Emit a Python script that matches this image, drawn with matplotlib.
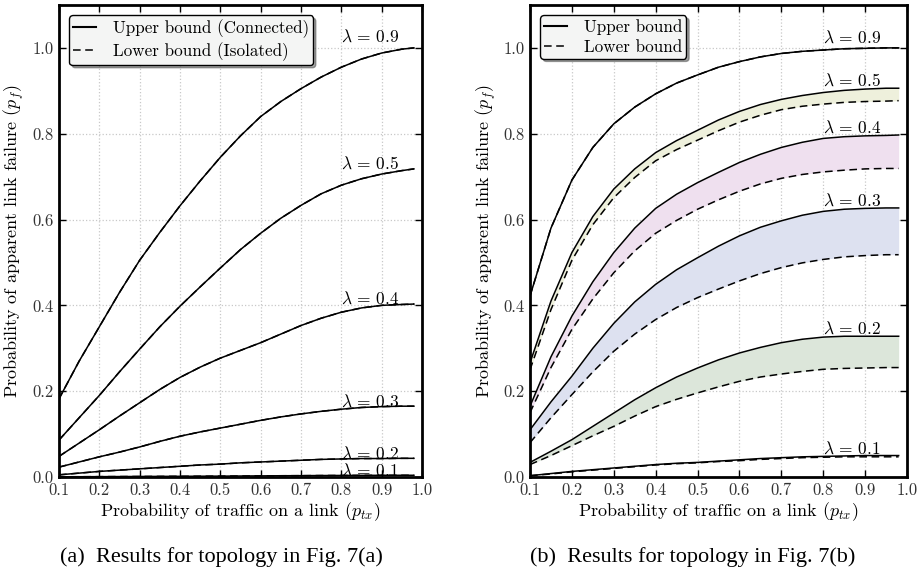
import matplotlib
matplotlib.use("Agg")
import matplotlib.pyplot as plt

plt.rcParams['font.family'] = 'serif'
plt.rcParams['font.serif'] = ['cmr10', 'DejaVu Serif']
plt.rcParams['mathtext.fontset'] = 'cm'
plt.rcParams['axes.formatter.use_mathtext'] = True
plt.rcParams['axes.unicode_minus'] = False

# traffic probability (x axis), shared by both panels
ptx = [0.1, 0.15, 0.2, 0.25, 0.3, 0.35, 0.4, 0.45, 0.5, 0.55, 0.6, 0.65, 0.7, 0.75,
       0.8, 0.85, 0.9, 0.95, 0.98]
lambdas = ["0.9", "0.5", "0.4", "0.3", "0.2", "0.1"]

# (a) topology 7(a): upper and lower bounds coincide
a_upper = {
    "0.9": [0.182, 0.27, 0.35, 0.43, 0.505, 0.57, 0.632, 0.69, 0.745, 0.795, 0.84, 0.875,
            0.905, 0.932, 0.955, 0.974, 0.988, 0.997, 1.0],
    "0.5": [0.086, 0.138, 0.19, 0.245, 0.298, 0.35, 0.398, 0.443, 0.487, 0.53, 0.568, 0.603,
            0.633, 0.66, 0.68, 0.695, 0.706, 0.714, 0.718],
    "0.4": [0.048, 0.079, 0.11, 0.142, 0.173, 0.204, 0.232, 0.256, 0.277, 0.295, 0.313, 0.333,
            0.353, 0.37, 0.384, 0.394, 0.400, 0.402, 0.403],
    "0.3": [0.023, 0.035, 0.047, 0.058, 0.070, 0.083, 0.095, 0.105, 0.114, 0.123, 0.132, 0.140,
            0.147, 0.153, 0.158, 0.162, 0.164, 0.165, 0.165],
    "0.2": [0.005, 0.009, 0.013, 0.016, 0.019, 0.022, 0.025, 0.028, 0.030, 0.033, 0.035, 0.037,
            0.039, 0.041, 0.042, 0.043, 0.043, 0.0435, 0.0435],
    "0.1": [0.0005, 0.0006, 0.0008, 0.001, 0.0012, 0.0014, 0.0016, 0.0018, 0.002, 0.0023,
            0.0026, 0.0029, 0.0031, 0.0034, 0.0036, 0.0038, 0.0039, 0.004, 0.004],
}
a_lower = a_upper

# (b) topology 7(b)
b_upper = {
    "0.9": [0.422, 0.580, 0.692, 0.768, 0.823, 0.862, 0.893, 0.918, 0.937, 0.955, 0.968, 0.979,
            0.987, 0.992, 0.995, 0.998, 0.999, 1.0, 1.0],
    "0.5": [0.266, 0.41, 0.523, 0.607, 0.671, 0.718, 0.756, 0.784, 0.808, 0.832, 0.852, 0.868,
            0.880, 0.889, 0.896, 0.901, 0.904, 0.906, 0.906],
    "0.4": [0.165, 0.28, 0.375, 0.455, 0.523, 0.58, 0.626, 0.659, 0.686, 0.71, 0.733, 0.752,
            0.768, 0.78, 0.789, 0.793, 0.795, 0.796, 0.797],
    "0.3": [0.11, 0.175, 0.235, 0.30, 0.358, 0.408, 0.449, 0.483, 0.511, 0.538, 0.562, 0.582,
            0.597, 0.610, 0.619, 0.624, 0.626, 0.627, 0.627],
    "0.2": [0.034, 0.06, 0.087, 0.118, 0.149, 0.18, 0.208, 0.233, 0.254, 0.273, 0.289, 0.302,
            0.313, 0.321, 0.326, 0.328, 0.328, 0.328, 0.328],
    "0.1": [0.003, 0.008, 0.013, 0.017, 0.021, 0.025, 0.029, 0.032, 0.034, 0.037, 0.040, 0.043,
            0.045, 0.047, 0.048, 0.049, 0.050, 0.050, 0.050],
}
b_lower = {
    "0.9": [0.422, 0.580, 0.692, 0.768, 0.823, 0.862, 0.893, 0.918, 0.937, 0.955, 0.968, 0.979,
            0.987, 0.992, 0.995, 0.998, 0.999, 1.0, 1.0],
    "0.5": [0.25, 0.39, 0.505, 0.588, 0.651, 0.698, 0.737, 0.763, 0.785, 0.807, 0.827, 0.843,
            0.856, 0.864, 0.869, 0.873, 0.875, 0.876, 0.877],
    "0.4": [0.150, 0.255, 0.344, 0.415, 0.476, 0.527, 0.568, 0.598, 0.624, 0.646, 0.666, 0.683,
            0.696, 0.705, 0.711, 0.715, 0.718, 0.719, 0.719],
    "0.3": [0.08, 0.138, 0.192, 0.245, 0.293, 0.333, 0.367, 0.395, 0.418, 0.438, 0.457, 0.474,
            0.488, 0.499, 0.507, 0.513, 0.516, 0.518, 0.518],
    "0.2": [0.029, 0.05, 0.073, 0.096, 0.118, 0.142, 0.164, 0.181, 0.196, 0.210, 0.223, 0.233,
            0.240, 0.246, 0.251, 0.253, 0.254, 0.255, 0.255],
    "0.1": [0.003, 0.007, 0.012, 0.016, 0.020, 0.024, 0.028, 0.031, 0.033, 0.036, 0.038, 0.041,
            0.043, 0.045, 0.046, 0.047, 0.047, 0.047, 0.047],
}
band_colors = {"0.5": "#eef0dc", "0.4": "#efe0ef", "0.3": "#dde1f0", "0.2": "#dce6da"}

xticks = [0.1, 0.2, 0.3, 0.4, 0.5, 0.6, 0.7, 0.8, 0.9, 1.0]
yticks = [0.0, 0.2, 0.4, 0.6, 0.8, 1.0]


def draw_panel(ax, upper, lower, legend_labels, label_off, fill):
    for lam in lambdas:
        if fill and lam in band_colors:
            ax.fill_between(ptx, lower[lam], upper[lam], color=band_colors[lam], lw=0, zorder=1)
        ax.plot(ptx, upper[lam], color="black", lw=1.1, ls="-", zorder=3)
        ax.plot(ptx, lower[lam], color="black", lw=1.1, ls=(0, (5, 3)), zorder=3)
        ax.text(0.8, upper[lam][-1] + label_off.get(lam, label_off["default"]),
                r"$\lambda\,=\,%s$" % lam, fontsize=12.5, ha="left", va="center", zorder=4)
    ax.set_xlim(0.1, 1.0)
    ax.set_ylim(0.0, 1.1)
    ax.set_xticks(xticks)
    ax.set_yticks(yticks)
    ax.set_xticklabels(["%.1f" % t for t in xticks])
    ax.set_yticklabels(["%.1f" % t for t in yticks])
    ax.tick_params(direction="in", top=True, right=True, length=5, width=1,
                   labelsize=12, labelcolor="#333333", pad=4)
    ax.grid(True, ls=":", color="#c8c8c8", lw=0.9, zorder=0)
    ax.set_axisbelow(True)
    for s in ax.spines.values():
        s.set_linewidth(2.0)
    ax.set_xlabel(r"Probability of traffic on a link ($p_{tx}$)", fontsize=13, labelpad=2)
    ax.set_ylabel(r"Probability of apparent link failure ($p_f$)", fontsize=13, labelpad=4)
    h1, = ax.plot([], [], color="black", lw=1.5, ls="-")
    h2, = ax.plot([], [], color="black", lw=1.1, ls=(0, (5, 3)))
    leg = ax.legend([h1, h2], legend_labels, loc="upper left", fontsize=12.3,
                    fancybox=True, shadow=True, framealpha=1, handlelength=1.35,
                    borderaxespad=0.6, borderpad=0.22, labelspacing=0.28, handletextpad=1.0)
    leg.get_frame().set_facecolor("#f4f5f4")
    leg.get_frame().set_edgecolor("black")
    leg.get_frame().set_linewidth(1.0)


fig = plt.figure(figsize=(9.2, 5.72), dpi=100)
ax1 = fig.add_axes([0.0641, 0.1661, 0.3946, 0.8252])
ax2 = fig.add_axes([0.5761, 0.1661, 0.4098, 0.8252])

draw_panel(ax1, a_upper, a_lower, ["Upper bound (Connected)", "Lower bound (Isolated)"],
           {"default": 0.012, "0.9": 0.026}, False)
draw_panel(ax2, b_upper, b_lower, ["Upper bound", "Lower bound"],
           {"default": 0.017, "0.9": 0.024}, True)

fig.text(0.241, 0.027, "(a)  Results for topology in Fig. 7(a)", family="Liberation Serif",
         fontsize=16, ha="center", va="center")
fig.text(0.753, 0.027, "(b)  Results for topology in Fig. 7(b)", family="Liberation Serif",
         fontsize=16, ha="center", va="center")

fig.savefig("out.png", dpi=100)
